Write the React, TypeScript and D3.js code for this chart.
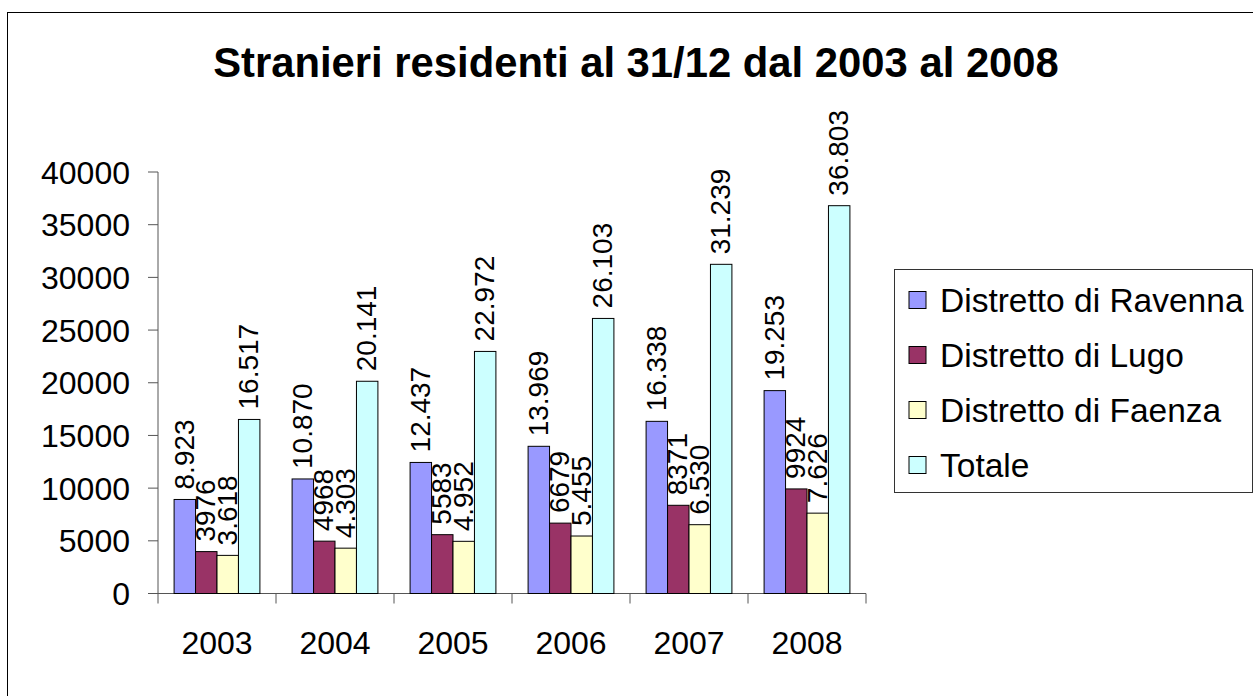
import React from "react";
import * as d3 from "d3";

const years = ["2003", "2004", "2005", "2006", "2007", "2008"];
const seriesNames = ["Distretto di Ravenna", "Distretto di Lugo", "Distretto di Faenza", "Totale"];
const ravenna = [8923, 10870, 12437, 13969, 16338, 19253];
const lugo = [3976, 4968, 5583, 6679, 8371, 9924];
const faenza = [3618, 4303, 4952, 5455, 6530, 7626];
const totale = [16517, 20141, 22972, 26103, 31239, 36803];
const seriesValues = [ravenna, lugo, faenza, totale];
const seriesThousandsSep = [true, false, true, true];
const seriesColors = ["#9999FF", "#993366", "#FFFFCC", "#CCFFFF"];
const yTicks = [0, 5000, 10000, 15000, 20000, 25000, 30000, 35000, 40000];
const title = "Stranieri residenti al 31/12 dal 2003 al 2008";

const W = 1253;
const H = 696;
const FONT = "'Liberation Sans', Arial, Helvetica, sans-serif";

const fmtSep = (v: number) => d3.format(",")(v).replace(/,/g, ".");
const fmtPlain = (v: number) => String(v);

export default function App() {
  const plot = { left: 158, right: 866, top: 172, bottom: 593.5 };
  const x0 = d3.scaleBand<string>().domain(years).range([plot.left, plot.right]).padding(0);
  const x1 = d3
    .scaleBand<string>()
    .domain(seriesNames)
    .range([0, x0.bandwidth()])
    .paddingInner(0)
    .paddingOuter(0.75);
  const y = d3.scaleLinear().domain([0, 40000]).range([plot.bottom, plot.top]);
  const axisColor = "#555";

  const legendX = 894.5;
  const legendY = 269.5;
  const rowStep = 55;

  return (
    <svg
      width={W}
      height={H}
      style={{ position: "absolute", left: 0, top: 0, background: "#fff" }}
      fontFamily={FONT}
    >
      <rect x={0} y={0} width={W} height={H} fill="#fff" />
      <rect x={7.5} y={12.5} width={W + 50} height={H + 50} fill="none" stroke="#000" strokeWidth={1} />

      <text x={636} y={77} textAnchor="middle" fontSize={41.8} fontWeight="bold" fill="#000">
        {title}
      </text>

      {/* Y axis */}
      <line x1={plot.left} x2={plot.left} y1={plot.top} y2={plot.bottom + 10} stroke={axisColor} />
      {yTicks.map((t) => (
        <g key={t}>
          <line x1={plot.left - 10} x2={plot.left} y1={y(t)} y2={y(t)} stroke={axisColor} />
          <text x={130} y={y(t)} dy="0.36em" textAnchor="end" fontSize={32} fill="#000">
            {t}
          </text>
        </g>
      ))}

      {/* X axis */}
      <line x1={plot.left - 10} x2={plot.right} y1={plot.bottom} y2={plot.bottom} stroke={axisColor} />
      {years.map((yr) => (
        <line
          key={"t" + yr}
          x1={(x0(yr) as number) + x0.bandwidth()}
          x2={(x0(yr) as number) + x0.bandwidth()}
          y1={plot.bottom}
          y2={plot.bottom + 10}
          stroke={axisColor}
        />
      ))}
      {years.map((yr) => (
        <text
          key={"l" + yr}
          x={(x0(yr) as number) + x0.bandwidth() / 2}
          y={653.5}
          textAnchor="middle"
          fontSize={32}
          fill="#000"
        >
          {yr}
        </text>
      ))}

      {/* Bars */}
      {years.map((yr, i) => (
        <g key={"g" + yr} transform={`translate(${x0(yr)},0)`}>
          {seriesNames.map((s, si) => {
            const v = seriesValues[si][i];
            const bx = x1(s) as number;
            return (
              <rect
                key={s}
                x={bx}
                y={y(v)}
                width={x1.bandwidth()}
                height={y(0) - y(v)}
                fill={seriesColors[si]}
                stroke="#000"
                strokeWidth={1}
              />
            );
          })}
        </g>
      ))}

      {/* Labels */}
      {years.map((yr, i) => (
        <g key={"lab" + yr} transform={`translate(${x0(yr)},0)`}>
          {seriesNames.map((s, si) => {
            const v = seriesValues[si][i];
            const cx = (x1(s) as number) + x1.bandwidth() / 2;
            const label = seriesThousandsSep[si] ? fmtSep(v) : fmtPlain(v);
            return (
              <text
                key={s}
                transform={`translate(${cx + 9},${y(v) - 10}) rotate(-90)`}
                fontSize={28}
                fill="#000"
              >
                {label}
              </text>
            );
          })}
        </g>
      ))}

      {/* Legend */}
      <rect x={legendX} y={legendY} width={358} height={223} fill="#fff" stroke="#333" strokeWidth={1} />
      {seriesNames.map((s, si) => {
        const cy = 300 + si * rowStep;
        return (
          <g key={"lg" + s}>
            <rect x={909} y={cy - 8.5} width={17} height={17} fill={seriesColors[si]} stroke="#000" />
            <text x={940} y={cy} dy="0.36em" fontSize={33.5} fill="#000">
              {s}
            </text>
          </g>
        );
      })}
    </svg>
  );
}
